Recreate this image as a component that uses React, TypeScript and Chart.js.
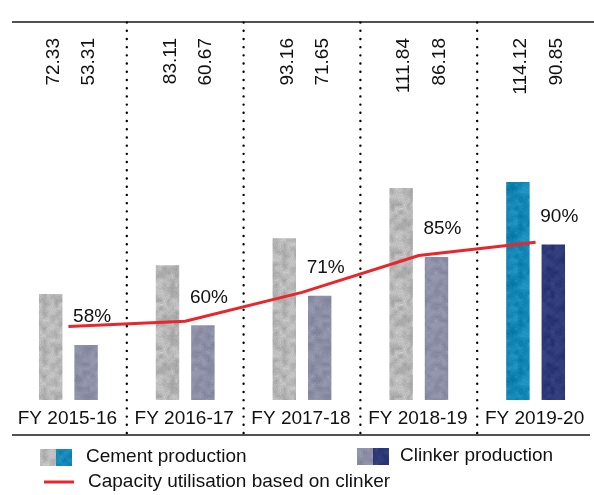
import React, { useEffect, useRef } from "react";
import { Chart, registerables } from "chart.js";

Chart.register(...registerables);

const categories = ["FY 2015-16", "FY 2016-17", "FY 2017-18", "FY 2018-19", "FY 2019-20"];
const cementProduction = [72.33, 83.11, 93.16, 111.84, 114.12];
const clinkerProduction = [53.31, 60.67, 71.65, 86.18, 90.85];
const capacityUtilisation = [58, 60, 71, 85, 90];
const legendLabels = ["Cement production", "Clinker production", "Capacity utilisation based on clinker"];

const FONT = '19px "Liberation Sans", Arial, Helvetica, sans-serif';

function hash(n: number): number {
  const s = Math.sin(n * 12.9898 + 78.233) * 43758.5453;
  return s - Math.floor(s);
}

function makeTexture(base: [number, number, number], amp: number, seed: number): CanvasPattern | string {
  const size = 48;
  const cell = 4;
  const g = size / cell;
  const c = document.createElement("canvas");
  c.width = size;
  c.height = size;
  const ctx = c.getContext("2d");
  if (!ctx) return `rgb(${base.join(",")})`;
  const img = ctx.createImageData(size, size);
  const grid = (gx: number, gy: number) => hash(((gx + g) % g) * 131 + ((gy + g) % g) * 17 + seed * 7) - 0.5;
  for (let y = 0; y < size; y++) {
    for (let x = 0; x < size; x++) {
      const gx = Math.floor(x / cell);
      const gy = Math.floor(y / cell);
      const fx = (x % cell) / cell;
      const fy = (y % cell) / cell;
      const a = grid(gx, gy) * (1 - fx) + grid(gx + 1, gy) * fx;
      const b = grid(gx, gy + 1) * (1 - fx) + grid(gx + 1, gy + 1) * fx;
      const v = a * (1 - fy) + b * fy;
      const n2 = hash(x * 53 + y * 97 + seed * 3) - 0.5;
      const d = v * amp + n2 * amp * 0.35;
      const i = (y * size + x) * 4;
      img.data[i] = Math.max(0, Math.min(255, base[0] + d));
      img.data[i + 1] = Math.max(0, Math.min(255, base[1] + d));
      img.data[i + 2] = Math.max(0, Math.min(255, base[2] + d));
      img.data[i + 3] = 255;
    }
  }
  ctx.putImageData(img, 0, 0);
  const p = ctx.createPattern(c, "repeat");
  return p || `rgb(${base.join(",")})`;
}

export default function App() {
  const canvasRef = useRef<HTMLCanvasElement | null>(null);

  useEffect(() => {
    const canvas = canvasRef.current;
    if (!canvas) return;

    const greyTex = makeTexture([180, 180, 180], 40, 1);
    const blueGreyTex = makeTexture([140, 143, 165], 26, 2);
    const tealTex = makeTexture([18, 134, 180], 30, 3);
    const navyTex = makeTexture([46, 57, 122], 22, 4);

    const cementColors = categories.map((_, i) => (i === categories.length - 1 ? tealTex : greyTex));
    const clinkerColors = categories.map((_, i) => (i === categories.length - 1 ? navyTex : blueGreyTex));

    const overlay = {
      id: "overlay",
      afterDatasetsDraw(chart: any) {
        const ctx = chart.ctx as CanvasRenderingContext2D;
        const xs = chart.scales.x;
        const m0 = chart.getDatasetMeta(0);
        const m1 = chart.getDatasetMeta(1);
        const W = chart.width;
        ctx.save();

        // top and bottom rules
        ctx.strokeStyle = "#1a1a1a";
        ctx.lineWidth = 1.4;
        ctx.beginPath();
        ctx.moveTo(12, 22);
        ctx.lineTo(W, 22);
        ctx.moveTo(12, 435);
        ctx.lineTo(W - 4, 435);
        ctx.stroke();

        // dotted separators
        ctx.strokeStyle = "#000";
        ctx.lineWidth = 2.4;
        ctx.lineCap = "round";
        ctx.setLineDash([0.01, 8.2]);
        for (let i = 0; i < categories.length - 1; i++) {
          const bx = (xs.getPixelForValue(i) + xs.getPixelForValue(i + 1)) / 2;
          ctx.beginPath();
          ctx.moveTo(bx, 22.5);
          ctx.lineTo(bx, 436);
          ctx.stroke();
        }
        ctx.setLineDash([]);
        ctx.lineCap = "butt";

        ctx.fillStyle = "#111";
        ctx.font = FONT;

        // category labels
        ctx.textAlign = "center";
        ctx.textBaseline = "middle";
        categories.forEach((c, i) => {
          ctx.fillText(c, xs.getPixelForValue(i) - 1, 419);
        });

        // rotated value labels
        const drawRot = (txt: string, x: number) => {
          ctx.save();
          ctx.translate(x, 38);
          ctx.rotate(-Math.PI / 2);
          ctx.textAlign = "right";
          ctx.textBaseline = "middle";
          ctx.fillText(txt, 0, 0);
          ctx.restore();
        };
        cementProduction.forEach((v, i) => drawRot(v.toFixed(2), m0.data[i].x + 3));
        clinkerProduction.forEach((v, i) => drawRot(v.toFixed(2), m1.data[i].x + 3));

        // percentage labels
        ctx.textAlign = "center";
        ctx.textBaseline = "middle";
        capacityUtilisation.forEach((v, i) => {
          const bar = m1.data[i];
          ctx.fillText(`${v}%`, bar.x + 6, bar.y - 28);
        });

        // legend
        ctx.fillStyle = cementColors[0] as any;
        ctx.fillRect(40, 449, 16, 17);
        ctx.fillStyle = cementColors[4] as any;
        ctx.fillRect(56, 449, 16, 17);
        ctx.fillStyle = clinkerColors[0] as any;
        ctx.fillRect(357, 448, 16, 17);
        ctx.fillStyle = clinkerColors[4] as any;
        ctx.fillRect(373, 448, 16, 17);

        ctx.strokeStyle = "#e8262b";
        ctx.lineWidth = 3;
        ctx.beginPath();
        ctx.moveTo(44, 482);
        ctx.lineTo(74, 482);
        ctx.stroke();

        ctx.fillStyle = "#111";
        ctx.textAlign = "left";
        ctx.textBaseline = "middle";
        ctx.fillText(legendLabels[0], 86, 457);
        ctx.fillText(legendLabels[1], 400, 456);
        ctx.fillText(legendLabels[2], 88, 482);

        ctx.restore();
      },
    };

    const chart = new Chart(canvas, {
      data: {
        labels: categories,
        datasets: [
          {
            type: "bar",
            label: legendLabels[0],
            data: cementProduction,
            backgroundColor: cementColors as any,
            yAxisID: "y",
            categoryPercentage: 0.606,
            barPercentage: 0.662,
            order: 2,
          },
          {
            type: "bar",
            label: legendLabels[1],
            data: clinkerProduction,
            backgroundColor: clinkerColors as any,
            yAxisID: "y",
            categoryPercentage: 0.606,
            barPercentage: 0.662,
            order: 2,
          },
          {
            type: "line",
            label: legendLabels[2],
            data: capacityUtilisation,
            borderColor: "#e8262b",
            borderWidth: 3,
            pointRadius: 0,
            tension: 0,
            yAxisID: "y2",
            order: 1,
          },
        ],
      } as any,
      options: {
        animation: false,
        responsive: true,
        maintainAspectRatio: false,
        layout: { padding: { left: 10, right: 0, top: 22, bottom: 95 } },
        plugins: { legend: { display: false }, tooltip: { enabled: false } },
        scales: {
          x: { display: false, offset: true, grid: { display: false } },
          y: { display: false, min: 32.8, max: 173.8 },
          y2: { display: false, min: 30.1, max: 173.7 },
        },
      },
      plugins: [overlay],
    });

    return () => chart.destroy();
  }, []);

  return (
    <div style={{ position: "fixed", left: 0, top: 0, width: 594, height: 495, background: "#fff" }}>
      <canvas ref={canvasRef} />
    </div>
  );
}
